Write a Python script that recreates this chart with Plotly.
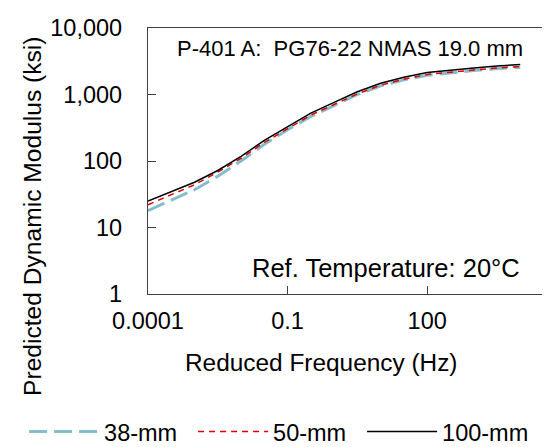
import plotly.graph_objects as go

# reduced frequency (Hz), read at half-decade steps
freq = [1e-4, 3.16e-4, 1e-3, 3.16e-3, 1e-2, 3.16e-2, 0.1, 0.316, 1,
        3.16, 10, 31.6, 100, 316, 1000, 3162, 10000]

# predicted dynamic modulus (ksi)
e_38mm = [18, 26, 37, 59, 100, 178, 295, 468, 692,
          1000, 1350, 1660, 1950, 2140, 2290, 2455, 2570]
e_50mm = [22, 31, 44, 68, 110, 190, 309, 490, 708,
          1020, 1380, 1700, 2000, 2190, 2340, 2510, 2630]
e_100mm = [25, 35, 48, 72, 117, 204, 331, 525, 760,
           1100, 1480, 1820, 2140, 2340, 2510, 2690, 2820]

x_ticks = [1e-4, 0.1, 100]
x_ticktext = ['0.0001', '0.1', '100']
y_ticks = [1, 10, 100, 1000, 10000]
y_ticktext = ['1', '10', '100', '1,000', '10,000']

FONT = 'Arial, Liberation Sans, sans-serif'

fig = go.Figure()
fig.add_trace(go.Scatter(x=freq, y=e_38mm, mode='lines', name='38-mm',
                         line=dict(color='#86BCCB', width=3, dash='18px,7px')))
fig.add_trace(go.Scatter(x=freq, y=e_50mm, mode='lines', name='50-mm',
                         line=dict(color='#E00000', width=1.5, dash='6px,5px')))
fig.add_trace(go.Scatter(x=freq, y=e_100mm, mode='lines', name='100-mm',
                         line=dict(color='#000000', width=1.5)))

axis_style = dict(showline=True, linecolor='#404040', linewidth=1.3, mirror=True,
                  ticks='inside', ticklen=8, tickcolor='#404040',
                  showgrid=False, zeroline=False,
                  tickfont=dict(size=23.5, color='#000000'))

fig.update_xaxes(type='log', range=[-4, 4.79], tickvals=x_ticks,
                 ticktext=x_ticktext, ticklabelstandoff=6, **axis_style)
fig.update_yaxes(type='log', range=[0, 4], tickvals=y_ticks,
                 ticktext=y_ticktext, ticklabelstandoff=20, **axis_style)

# axis titles and inset labels
fig.add_annotation(text='Predicted Dynamic Modulus (ksi)', textangle=-90,
                   xref='paper', yref='paper', x=-0.281, y=0.29,
                   xanchor='center', yanchor='middle',
                   showarrow=False, font=dict(size=24.6, color='#000'))
fig.add_annotation(text='Reduced Frequency (Hz)', xref='paper', yref='paper',
                   x=0.423, y=-0.257, xanchor='center', yanchor='middle',
                   showarrow=False, font=dict(size=24.4, color='#000'))
fig.add_annotation(text='P-401 A:  PG76-22 NMAS 19.0 mm', xref='paper', yref='paper',
                   x=0.495, y=0.923, xanchor='center', yanchor='middle',
                   showarrow=False, font=dict(size=22, color='#000'))
fig.add_annotation(text='Ref. Temperature: 20°C', xref='paper', yref='paper',
                   x=0.914, y=0.099, xanchor='right', yanchor='middle',
                   showarrow=False, font=dict(size=25.5, color='#000'))

fig.update_layout(
    width=550, height=447,
    margin=dict(l=140, r=1, t=20, b=155),
    plot_bgcolor='white', paper_bgcolor='white',
    font=dict(family=FONT, size=23, color='#000'),
    legend=dict(orientation='h', x=-0.303, y=-0.518, xanchor='left',
                yanchor='middle', font=dict(size=23.5), itemwidth=70,
                entrywidth=84, entrywidthmode='pixels'),
)

fig.write_html('out.html')
